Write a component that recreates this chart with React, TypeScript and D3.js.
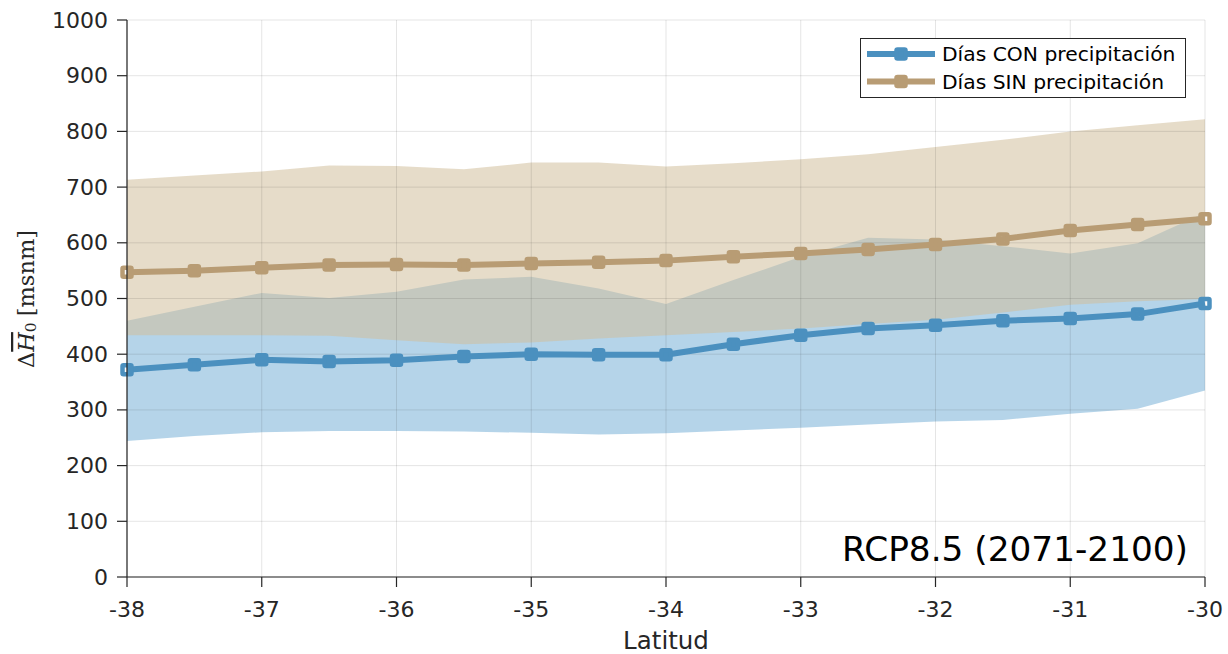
import React from "react";
import * as d3 from "d3";

const latitudes = [-38, -37.5, -37, -36.5, -36, -35.5, -35, -34.5, -34, -33.5, -33, -32.5, -32, -31.5, -31, -30.5, -30];
const conMean = [372, 381, 390, 387, 389, 396, 400, 399, 399, 418, 434, 446, 452, 460, 464, 472, 491];
const conUpper = [460, 485, 510, 501, 512, 534, 539, 518, 490, 533, 575, 609, 606, 594, 581, 599, 654];
const conLower = [244, 253, 260, 262, 262, 261, 259, 256, 258, 263, 268, 274, 279, 282, 293, 302, 335];
const sinMean = [547, 550, 555, 560, 561, 560, 563, 565, 568, 575, 581, 588, 597, 607, 622, 633, 643];
const sinUpper = [713, 721, 728, 739, 738, 732, 744, 744, 737, 743, 750, 759, 772, 785, 800, 811, 822];
const sinLower = [434, 434, 434, 433, 425, 418, 421, 428, 434, 440, 446, 454, 462, 475, 489, 495, 499];
const xTicks = [-38, -37, -36, -35, -34, -33, -32, -31, -30];
const yTicks = [0, 100, 200, 300, 400, 500, 600, 700, 800, 900, 1000];
const seriesNames = ["Días CON precipitación", "Días SIN precipitación"];
const annotation = "RCP8.5 (2071-2100)";

const W = 1228, H = 654;
const left = 127, right = 1205, top = 20, bottom = 577;
const blue = "#4b90bf";
const tan = "#b89c74";
const blueFill = "rgb(118,175,214)";
const tanFill = "rgb(209,190,155)";
const fillAlpha = 0.54;
const axisColor = "#262626";
const font = "'DejaVu Sans', sans-serif";

export default function App() {
  const x = d3.scaleLinear().domain([-38, -30]).range([left, right]);
  const y = d3.scaleLinear().domain([0, 1000]).range([bottom, top]);
  const idx = latitudes.map((_, i) => i);
  const area = (lo: number[], hi: number[]) =>
    d3.area<number>().x(i => x(latitudes[i])).y0(i => y(lo[i])).y1(i => y(hi[i]))(idx) || "";
  const line = (v: number[]) => d3.line<number>().x(i => x(latitudes[i])).y(i => y(v[i]))(idx) || "";
  const ms = 9;
  const msw = 4.5;
  const markers = (v: number[], c: string) =>
    idx.map(i => (
      <rect key={i} x={x(latitudes[i]) - ms / 2} y={y(v[i]) - ms / 2} width={ms} height={ms}
        fill="none" stroke={c} strokeWidth={msw} rx={1} />
    ));
  return (
    <svg width={W} height={H} style={{ position: "absolute", left: 0, top: 0 }}>
      <rect width={W} height={H} fill="white" />
      <defs>
        <clipPath id="plot"><rect x={left} y={top} width={right - left} height={bottom - top} /></clipPath>
      </defs>
      <g clipPath="url(#plot)">
        <path d={area(conLower, conUpper)} fill={blueFill} fillOpacity={fillAlpha} />
        <path d={area(sinLower, sinUpper)} fill={tanFill} fillOpacity={fillAlpha} />
      </g>
      {/* grid */}
      <g stroke={axisColor} strokeOpacity={0.12} strokeWidth={1}>
        {xTicks.map(t => <line key={"gx" + t} x1={x(t)} x2={x(t)} y1={top} y2={bottom} />)}
        {yTicks.map(t => <line key={"gy" + t} x1={left} x2={right} y1={y(t)} y2={y(t)} />)}
      </g>
      <path d={line(conMean)} fill="none" stroke={blue} strokeWidth={6} strokeLinejoin="round" />
      {markers(conMean, blue)}
      <path d={line(sinMean)} fill="none" stroke={tan} strokeWidth={6} strokeLinejoin="round" />
      {markers(sinMean, tan)}
      {/* axes */}
      <g stroke={axisColor} strokeWidth={1.2}>
        <line x1={left} x2={left} y1={top} y2={bottom} />
        <line x1={left} x2={right} y1={bottom} y2={bottom} />
        {yTicks.map(t => <line key={"ty" + t} x1={left - 10} x2={left} y1={y(t)} y2={y(t)} />)}
        {xTicks.map(t => <line key={"tx" + t} x1={x(t)} x2={x(t)} y1={bottom} y2={bottom + 10} />)}
      </g>
      <g fontFamily={font} fontSize={22} fill={axisColor}>
        {yTicks.map(t => (
          <text key={"ly" + t} x={left - 19} y={y(t)} textAnchor="end" dominantBaseline="central">{t}</text>
        ))}
        {xTicks.map(t => (
          <text key={"lx" + t} x={x(t)} y={609} textAnchor="middle" dominantBaseline="central">{t}</text>
        ))}
        <text x={(left + right) / 2} y={640} textAnchor="middle" dominantBaseline="central" fontSize={24.5}>Latitud</text>
      </g>
      {/* y label */}
      <g transform={`translate(26, 299) rotate(-90)`} fontFamily="'DejaVu Serif', 'Liberation Serif', serif" fontSize={22.5} fill={axisColor}>
        <text x={0} y={0} textAnchor="middle" dominantBaseline="central">
          <tspan>Δ</tspan>
          <tspan fontStyle="italic" textDecoration="overline">H</tspan>
          <tspan fontSize={15.5} dy={5}>0</tspan>
          <tspan dy={-5} dx={6}>[msnm]</tspan>
        </text>
      </g>
      {/* annotation */}
      <text x={1188} y={549} textAnchor="end" dominantBaseline="central" fontFamily={font} fontSize={34.3} fill="black">{annotation}</text>
      {/* legend */}
      <g>
        <rect x={860.5} y={38.5} width={325} height={59} fill="white" stroke={axisColor} strokeWidth={1} />
        {[blue, tan].map((c, i) => {
          const ly = 54 + i * 27.5;
          return (
            <g key={i}>
              <line x1={867} x2={935} y1={ly} y2={ly} stroke={c} strokeWidth={6} />
              <rect x={901 - ms / 2} y={ly - ms / 2} width={ms} height={ms} fill="none" stroke={c} strokeWidth={msw} rx={1} />
              <text x={942} y={ly} dominantBaseline="central" fontFamily={font} fontSize={20.3} fill="black">{seriesNames[i]}</text>
            </g>
          );
        })}
      </g>
    </svg>
  );
}
